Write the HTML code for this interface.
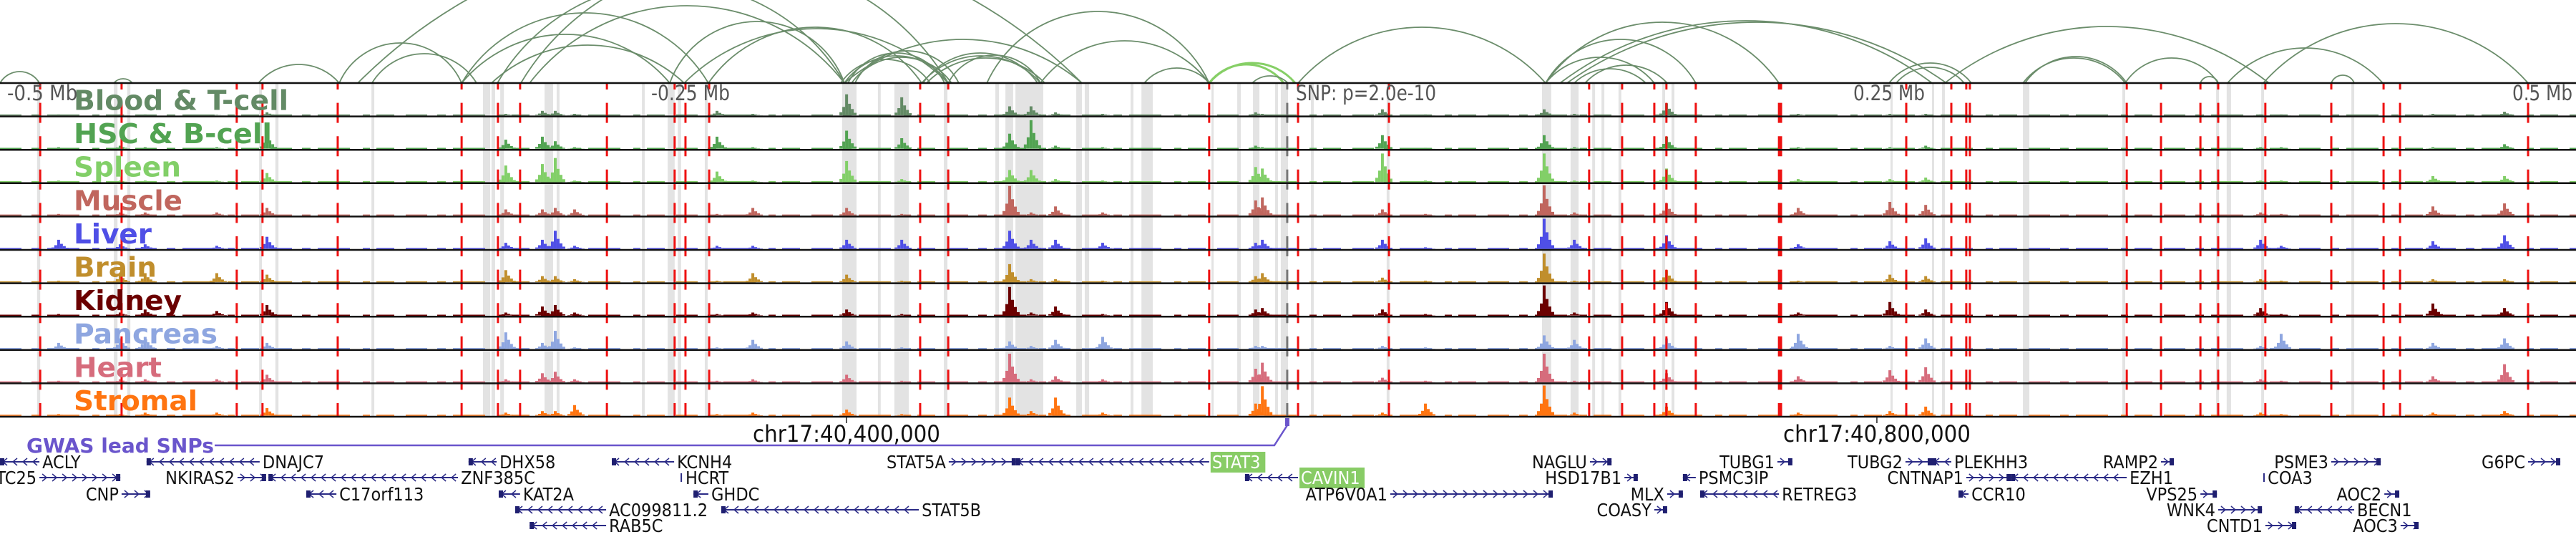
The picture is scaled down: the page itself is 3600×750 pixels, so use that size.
<!DOCTYPE html>
<html><head><meta charset="utf-8">
<style>
html,body{margin:0;padding:0;background:#fff;}
svg{display:block;font-family:"DejaVu Sans Condensed","DejaVu Sans","Liberation Sans",sans-serif;}
</style></head>
<body>
<svg id="chart" width="3600" height="750" viewBox="0 0 3600 750" xmlns="http://www.w3.org/2000/svg">
<g id="bands"></g>
<g id="arcs"></g>
<g id="tracks"></g>
<g id="vlines"></g>
<g id="borders"></g>
<g id="labels"></g>
<g id="scale">
  <text x="10" y="140" font-size="29" fill="#555">-0.5 Mb</text>
  <text x="910" y="140" font-size="29" fill="#555" textLength="110" lengthAdjust="spacingAndGlyphs">-0.25 Mb</text>
  <text x="1811" y="140" font-size="29" fill="#555" textLength="196" lengthAdjust="spacingAndGlyphs">SNP: p=2.0e-10</text>
  <text x="2690" y="140" font-size="29" fill="#555" text-anchor="end" textLength="100" lengthAdjust="spacingAndGlyphs">0.25 Mb</text>
  <text x="3595" y="140" font-size="29" fill="#555" text-anchor="end" textLength="84" lengthAdjust="spacingAndGlyphs">0.5 Mb</text>
</g>
<g id="coords"></g>
<g id="gwas"></g>
<g id="genes"></g>
</svg>
<script>
// ---- data (positions in kb from window start; window = 1000 kb) ----
const trackNames = ["Blood & T-cell","HSC & B-cell","Spleen","Muscle","Liver","Brain","Kidney","Pancreas","Heart","Stromal"];
const peakPos = [23.3,47.2,56.9,84.7,104.2,196.9,211.1,216.1,223.6,278.9,292.8,329.2,350.6,392.5,400.8,410.3,428.6,488,490.6,537.2,553.9,600,611.7,647.5,698.6,734.2,748.1,878.1,886.1,945,972.8];
const bloodVals    = [.03,.03,.03,.02,.1,.05,.15,.15,.05,.15,.05,.7,.6,.3,.3,.1,.05,.1,.05,.2,.03,.2,.05,.4,.05,.05,.05,.03,.03,.05,.12];
const hscVals      = [.05,.1,.05,.05,.5,.3,.4,.25,.05,.4,.05,.6,.35,.5,.95,.1,.05,.1,.05,.45,.03,.45,.05,.4,.05,.05,.1,.05,.05,.05,.15];
const spleenVals   = [.05,.05,.05,.05,.3,.55,.6,.8,.05,.35,.05,.7,.1,.4,.4,.1,.05,.5,.45,.95,.05,.95,.05,.45,.1,.1,.15,.05,.05,.2,.2];
const muscleVals   = [.05,.1,.1,.1,.25,.2,.2,.25,.2,.05,.25,.25,.05,.98,.1,.3,.1,.5,.6,.2,.05,1,.1,.4,.25,.45,.35,.1,.05,.3,.4];
const liverVals    = [.3,.15,.15,.1,.4,.2,.3,.6,.1,.1,.1,.3,.3,.6,.3,.3,.2,.2,.3,.3,.05,1,.3,.45,.15,.25,.35,.3,.1,.25,.45];
const brainVals    = [.05,.25,.3,.3,.25,.4,.2,.2,.1,.05,.3,.25,.05,.6,.1,.1,.05,.2,.3,.15,.05,.95,.05,.4,.05,.25,.2,.1,.05,.1,.1];
const kidneyVals   = [.05,.1,.2,.15,.35,.1,.3,.35,.1,.05,.1,.2,.05,.95,.1,.3,.05,.2,.25,.2,.05,1,.1,.45,.1,.45,.2,.25,.05,.4,.25];
const pancreasVals = [.2,.35,.4,.1,.2,.55,.2,.6,.05,.05,.3,.25,.05,.25,.1,.3,.4,.1,.1,.1,.05,.45,.3,.35,.5,.1,.35,.1,.5,.2,.35];
const heartVals    = [.05,.1,.1,.1,.25,.1,.3,.35,.1,.05,.1,.25,.05,.95,.1,.2,.1,.45,.65,.15,.05,.95,.05,.3,.2,.4,.5,.1,.05,.2,.6];
const stromalVals  = [.05,.05,.1,.1,.25,.1,.15,.15,.35,.05,.1,.2,.05,.6,.15,.6,.1,.4,.98,.1,.4,1,.1,.3,.1,.15,.3,.1,.05,.1,.15];
const redLines = [15.6,47.2,91.9,101.9,131.1,179.2,193.3,201.9,235.6,261.9,266.1,275.3,357.2,368.1,469.4,503.9,539.2,616.9,629.7,642.2,646.9,658.3,690.6,691.4,740,757.5,763.3,764.7,825.6,838.9,854.2,861.1,879.4,905,925.3,931.7,981.4];
const snpPos = 499.7;
const bandStart = [14.4,44.2,49.4,100.6,106.9,144.2,187.5,190.8,194.2,211.4,216.1,249.2,259.2,263.1,273.6,326.9,340.8,347.2,366.4,386.4,390.3,394.2,417.8,421.1,438.9,443.1,470.3,480.3,486.4,495,497.2,508.9,538.3,598.6,609.7,618.1,621.7,628.3,645.3,648.9,733.9,750,753.9,785.3,823.9,860.3,864.4,877.8,912.8];
const bandEnd   = [15.6,45.6,50.6,101.7,108.1,145.3,190.3,192.2,195.6,214.7,217.2,250.3,261.9,264.4,274.7,332.5,341.9,352.8,367.8,387.8,393.3,405,420,422.8,440,447.5,470.8,481.7,488.9,496.1,500,510,539.4,602.2,612.8,619.2,622.8,629.4,646.4,650,734.7,750.8,755,787.8,825,861.4,866.1,878.9,913.9];
const arcStart = [0,44.2,100.3,131.7,144.4,179.2,179.2,190.8,193.1,202.2,205.6,260,275,265.6,327.8,329.2,330.6,326.4,331.9,357.8,358.3,359.7,368.1,327.8,383.1,403.9,444.2,469.4,469.4,486.1,138.9,503.9,600,600,611.1,615.3,600,605.6,608.3,733.3,736.1,755,785.3,786.1,825,854.2,864.7,878.6,905];
const arcEnd   = [15.3,51.4,131.7,179.2,185,260,275,265.6,327.8,368.1,327.8,327.8,357.8,368.1,368.1,366.7,369.4,361.1,372.2,403.9,402.8,405.6,403.9,420,469.4,469.4,469.4,498.3,502.8,500,420,600,658.3,642.2,638.9,647.2,690.6,750,755.6,765.3,762.5,880.8,825,825.6,861.1,861.1,925,981.4,913.9];
const arcHeight= [16,6,26,56,41,68,98,53,140,170,108,86,78,76,38,42,36,33,45,38,42,35,39,61,100,59,21,26,28,10,210,78,61,36,20,25,85,87,85,28,22,79,35,37,35,9,49,83,11];
const arcGreen = [27,28];
const genes = [
 ["ACLY",0,15.3,0,"R","<"],["TC25",15.3,46.7,1,"L",">"],["CNP",47.2,58.3,2,"L",">"],
 ["DNAJC7",56.9,100.8,0,"R","<"],["NKIRAS2",92.2,103.3,1,"L",">"],["ZNF385C",104.2,177.8,1,"R","<"],
 ["C17orf113",118.9,130.6,2,"R","<"],["DHX58",181.9,192.8,0,"R","<"],["KAT2A",193.6,201.9,2,"R","<"],
 ["AC099811.2",200,235.3,3,"R","<"],["RAB5C",205.6,235.3,4,"R","<"],["KCNH4",237.5,261.7,0,"R","<"],
 ["HCRT",264.2,265,1,"R","|"],["GHDC",269.2,275,2,"R","<"],["STAT5B",280,356.7,3,"R","<"],
 ["STAT5A",368.3,394.4,0,"L",">"],["STAT3",394.4,469.4,0,"RH","<"],["CAVIN1",483.3,503.9,1,"RH","<"],
 ["ATP6V0A1",539.7,602.8,2,"L",">"],["NAGLU",617.2,625.6,0,"L",">"],["HSD17B1",630.6,635.8,1,"L",">"],
 ["COASY",642.2,647.2,3,"L",">"],["MLX",647.2,653.3,2,"L",">"],["PSMC3IP",653.3,658.3,1,"R","<"],
 ["RETREG3",660,690.6,2,"R","<"],["TUBG1",690,695.8,0,"L",">"],["TUBG2",739.7,750,0,"L",">"],
 ["PLEKHH3",750,757.5,0,"R","<"],["CNTNAP1",763.3,780.6,1,"L",">"],["EZH1",780.6,825.6,1,"R","<"],
 ["CCR10",760.3,764.2,2,"R","<"],["RAMP2",838.9,843.9,0,"L",">"],["VPS25",854.2,860.6,2,"L",">"],
 ["WNK4",861.1,878.1,3,"L",">"],["CNTD1",879.4,891.4,4,"L",">"],["COA3",878.6,879.2,1,"R","|"],
 ["BECN1",890.8,913.9,3,"R","<"],["PSME3",905,924.2,0,"L",">"],["AOC2",925.6,931.4,2,"L",">"],
 ["AOC3",931.9,938.9,4,"L",">"],["G6PC",981.4,993.9,0,"L",">"]
];
const coordTicks = [328.6,728.6];
const coordLabels = ["chr17:40,400,000","chr17:40,800,000"];

// ---- layout ----
const NS="http://www.w3.org/2000/svg";
const X = kb => kb*3.6;
const TOP=116, TH=46.6, NT=10;
const trackValues=[bloodVals,hscVals,spleenVals,muscleVals,liverVals,brainVals,kidneyVals,pancreasVals,heartVals,stromalVals];
const colors=["#638a65","#52a352","#82cf68","#c0665e","#4f4fe6","#c08e2c","#6b0000","#8ea6e0","#d66c7c","#ff7410"];
const labelW=[300,277,150,152,109,116,151,201,123,173];
function el(tag,attrs,parent){const e=document.createElementNS(NS,tag);for(const k in attrs)e.setAttribute(k,attrs[k]);parent.appendChild(e);return e;}
const Y = (t,v) => TOP+(t+1)*TH-1.5 - v*42;

const gB=document.getElementById('bands');
for(let i=0;i<bandStart.length;i++){
  const r=el('rect',{x:X(bandStart[i]),y:TOP,width:Math.max(3,X(bandEnd[i])-X(bandStart[i])),height:TH*NT,fill:'#e3e3e3'},gB);
  
  
}
const gA=document.getElementById('arcs');
for(let i=0;i<arcStart.length;i++){
  const x1=X(arcStart[i]),x2=X(arcEnd[i]),h=arcHeight[i];
  const s=(x2-x1)/2; const r=(s*s+h*h)/(2*h);
  const green=arcGreen.includes(i);
  const p=el('path',{d:`M${x1},${TOP} A${r},${r} 0 0 1 ${x2},${TOP}`,fill:'none',stroke:green?'#86cf66':'#6b8d6b','stroke-width':green?3:1.8},gA);
  
  
}
const gT=document.getElementById('tracks');
for(let t=0;t<NT;t++){
  const g=el('g',{},gT);
  
  
  const base=TOP+(t+1)*TH-1.5;
  const bl=el('line',{x1:0,x2:3600,y1:base-0.5,y2:base-0.5,stroke:colors[t],'stroke-width':1.5,'stroke-dasharray':'30 14 12 10 45 18 10 9 25 16'},g);
  
  
  const vals=trackValues[t];
  for(let i=0;i<peakPos.length;i++){
    const v=vals[i]; const cx=X(peakPos[i]);
    const parts=[[-10,0.15],[-6,0.4],[-2,1],[2,0.55],[6,0.3],[10,0.12]];
    for(const [dx,f] of parts){
      const yy=Y(t,v*f);
      const b=el('rect',{x:cx+dx-2,y:yy,width:4,height:base-yy,fill:colors[t]},g);
      
      
    }
  }
}
const gV=document.getElementById('vlines');
const clip=el('clipPath',{id:'tc'},gV);el('rect',{x:0,y:TOP,width:3600,height:TH*NT},clip);
for(const p of redLines){
  const l=el('line',{x1:X(p),x2:X(p),y1:TOP-19,y2:TOP+TH*NT,stroke:'#ee1111','stroke-width':3,'stroke-dasharray':'28 18.6','clip-path':'url(#tc)'},gV);
  
  
}
const sl=el('line',{x1:X(snpPos),x2:X(snpPos),y1:TOP-19,y2:TOP+TH*NT,stroke:'#777','stroke-width':3,'stroke-dasharray':'28 18.6','clip-path':'url(#tc)'},gV);


const gBo=document.getElementById('borders');
for(let t=0;t<=NT;t++){
  const l=el('line',{x1:0,x2:3600,y1:TOP+t*TH,y2:TOP+t*TH,stroke:'#111','stroke-width':2.5},gBo);
  
  
}
const gL=document.getElementById('labels');
for(let t=0;t<NT;t++){
  const tx=el('text',{x:103,y:TOP+t*TH+37.5,'font-size':38,'font-weight':'bold',fill:colors[t],textLength:labelW[t],lengthAdjust:'spacingAndGlyphs'},gL);
  tx.textContent=trackNames[t];
  
  
}
const gC=document.getElementById('coords');
for(let i=0;i<coordTicks.length;i++){
  const x=X(coordTicks[i]);
  const l=el('line',{x1:x,x2:x,y1:583,y2:591,stroke:'#222','stroke-width':1.5},gC);
  
  
  const tx=el('text',{x:x,y:617,'font-size':32,'text-anchor':'middle',fill:'#111',textLength:262,lengthAdjust:'spacingAndGlyphs'},gC);
  tx.textContent=coordLabels[i];
  
  
}
const gG=document.getElementById('gwas');
const gx=X(snpPos);
const gl=el('polyline',{points:`300,622 ${gx-18},622 ${gx},594`,fill:'none',stroke:'#6a55cc','stroke-width':2.5},gG);


const gm=el('rect',{x:gx-3,y:584,width:6,height:11,fill:'#6a55cc'},gG);


const gt=el('text',{x:37,y:632,'font-size':28,'font-weight':'bold',fill:'#6a55cc',textLength:262,lengthAdjust:'spacingAndGlyphs'},gG);
gt.textContent='GWAS lead SNPs';


const gGe=document.getElementById('genes');
const rowY=[645,667,690,712,734];
for(const [name,s,e,row,side,str] of genes){
  const g=el('g',{},gGe);
  
  
  const x1=X(s),x2=X(e),y=rowY[row];
  el('line',{x1:x1,x2:x2,y1:y,y2:y,stroke:'#2b2b86','stroke-width':str==='|'?0:2},g);
  if(str==='|'){el('rect',{x:x1,y:y-6,width:2,height:12,fill:'#2b2b86'},g);}
  else{
    for(let x=x1+7;x<x2-4;x+=14){
      const d=str==='<'?`M${x+3},${y-5} L${x-3},${y} L${x+3},${y+5}`:`M${x-3},${y-5} L${x+3},${y} L${x-3},${y+5}`;
      el('path',{d:d,fill:'none',stroke:'#2b2b86','stroke-width':1.5},g);
    }
    el('rect',{x:str==='<'?x1:x2-6,y:y-5,width:6,height:10,fill:'#1f1f70'},g);
  }
  const hl=side==='RH';
  const tx=el('text',{x:side==='L'?x1-4:x2+4,y:y+9,'font-size':25,'text-anchor':side==='L'?'end':'start',fill:hl?'#fff':'#111'},g);
  tx.textContent=name;
  if(hl){
    const w=name.length*14.5;
    const bg=el('rect',{x:x2+2,y:y-14,width:w+4,height:29,fill:'#88cc66'},g);
    g.insertBefore(bg,tx);
  }
}
</script>
</body></html>
